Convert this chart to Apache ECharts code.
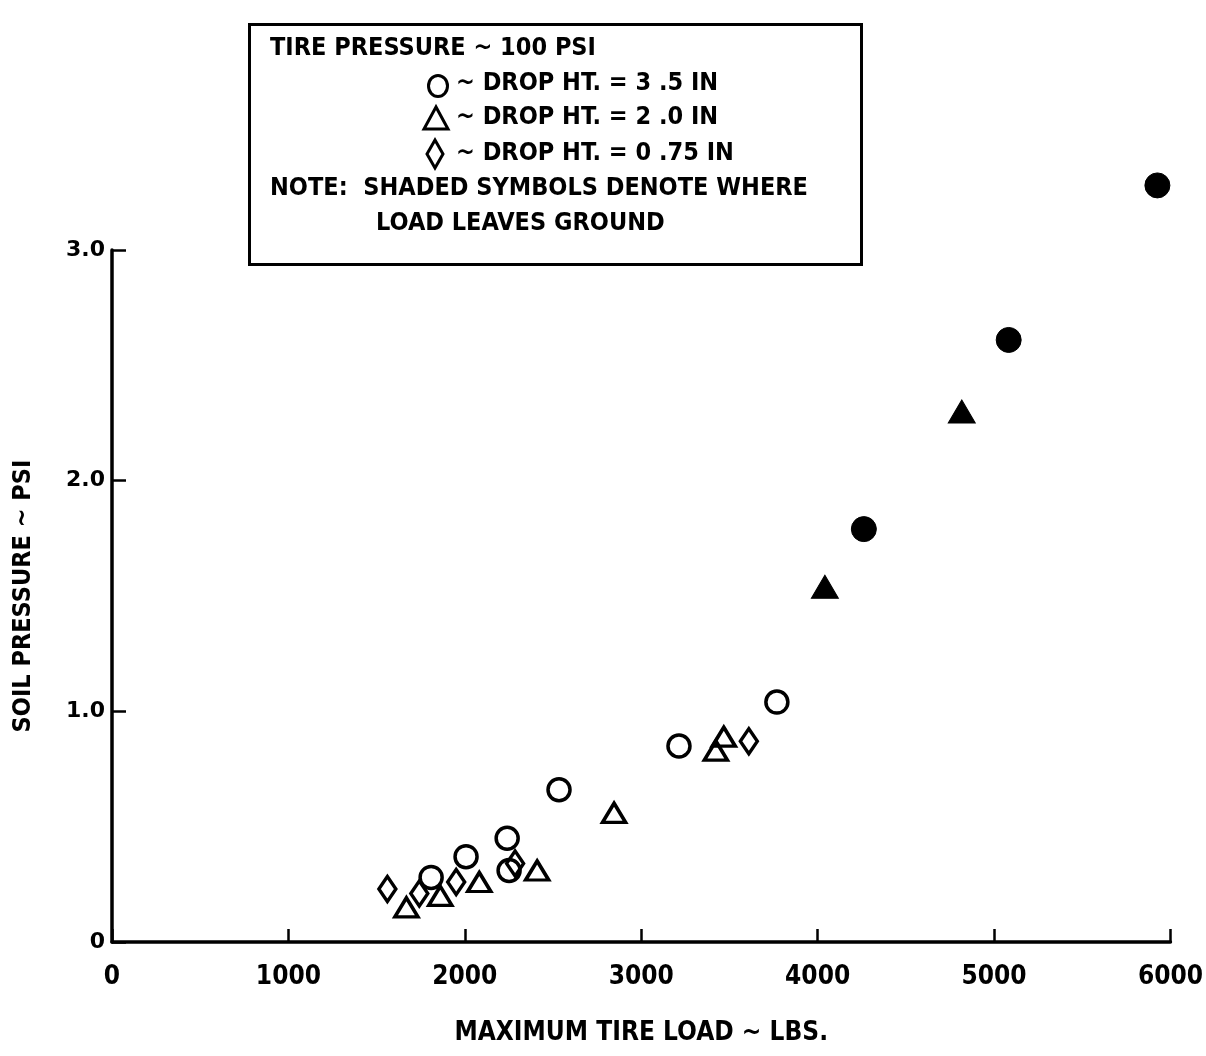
<!DOCTYPE html>
<html>
<head>
<meta charset="utf-8">
<script src="https://cdn.jsdelivr.net/npm/echarts@6/dist/echarts.min.js"></script>
<style>
html,body{margin:0;padding:0;background:#fff;}
#c{width:1206px;height:1056px;}
</style>
</head>
<body>
<div id="c"></div>
<script>
// Data (x: max tire load, lbs; y: soil pressure, psi)
const openCircleX = [3769, 3214, 2534, 2240, 2251, 2007, 1809];
const openCircleY = [1.04, 0.85, 0.66, 0.45, 0.31, 0.37, 0.28];
const openTriangleX = [3468, 3423, 2846, 2410, 2082, 1861, 1669];
const openTriangleY = [0.89, 0.83, 0.56, 0.31, 0.26, 0.20, 0.15];
const openDiamondX = [3610, 2285, 1951, 1742, 1561];
const openDiamondY = [0.87, 0.34, 0.26, 0.21, 0.23];
const filledCircleX = [5926, 5083, 4262];
const filledCircleY = [3.28, 2.61, 1.79];
const filledTriangleX = [4817, 4041];
const filledTriangleY = [2.30, 1.54];

const xTicks = [0, 1000, 2000, 3000, 4000, 5000, 6000];
const yTicks = [0, 1.0, 2.0, 3.0];

const legendLines = [
  'TIRE PRESSURE ~ 100 PSI',
  '~ DROP HT. = 3 .5 IN',
  '~ DROP HT. = 2 .0 IN',
  '~ DROP HT. = 0 .75 IN',
  'NOTE:  SHADED SYMBOLS DENOTE WHERE',
  'LOAD LEAVES GROUND'
];

const FONT = '"Liberation Sans Narrow", "DejaVu Sans Condensed", "Liberation Sans", sans-serif';

function pairs(xs, ys) { return xs.map((x, i) => [x, ys[i]]); }

const chart = echarts.init(document.getElementById('c'), null, {renderer: 'canvas'});

const openStyle = {color: 'rgba(255,255,255,0)', borderColor: '#000', borderWidth: 3.5, opacity: 1};
const filledStyle = {color: '#000', borderColor: '#000', borderWidth: 1, opacity: 1};

const legendText = (txt, left, top) => ({
  type: 'text', left: left, top: top, z: 11,
  style: {text: txt, fontFamily: FONT, fontWeight: 'bold', fontSize: 25, fill: '#000'}
});

const option = {
  backgroundColor: '#fff',
  animation: false,
  grid: {left: 112, top: 250, width: 1060, height: 692, containLabel: false},
  xAxis: {
    type: 'value', min: 0, max: 6000, interval: 1000,
    name: 'MAXIMUM TIRE LOAD ~ LBS.', nameLocation: 'middle', nameGap: 78,
    nameTextStyle: {fontFamily: FONT, fontWeight: 'bold', fontSize: 26, color: '#000'},
    axisLine: {show: true, lineStyle: {color: '#000', width: 3.5}},
    axisTick: {show: true, inside: true, length: 13, lineStyle: {color: '#000', width: 2.5}},
    axisLabel: {color: '#000', fontFamily: FONT, fontWeight: 'bold', fontSize: 26, margin: 22,
      formatter: v => xTicks.indexOf(v) >= 0 ? String(v) : ''},
    splitLine: {show: false}
  },
  yAxis: {
    type: 'value', min: 0, max: 3, interval: 1,
    name: 'SOIL PRESSURE ~ PSI', nameLocation: 'middle', nameGap: 76, nameRotate: 90,
    nameTextStyle: {fontFamily: FONT, fontWeight: 'bold', fontSize: 25, color: '#000'},
    axisLine: {show: true, lineStyle: {color: '#000', width: 3.5}},
    axisTick: {show: true, inside: true, length: 14, lineStyle: {color: '#000', width: 2.5}},
    axisLabel: {color: '#000', fontFamily: '"DejaVu Sans", sans-serif', fontWeight: 'bold', fontSize: 22, margin: 7,
      formatter: v => yTicks.indexOf(v) >= 0 ? (v === 0 ? '0' : v.toFixed(1)) : ''},
    splitLine: {show: false}
  },
  series: [
    {name: 'open circle', type: 'scatter', clip: false, symbol: 'circle', symbolSize: 22,
     itemStyle: openStyle, data: pairs(openCircleX, openCircleY)},
    {name: 'open triangle', type: 'scatter', clip: false, symbol: 'triangle', symbolSize: [23, 19],
     itemStyle: openStyle, data: pairs(openTriangleX, openTriangleY)},
    {name: 'open diamond', type: 'scatter', clip: false, symbol: 'diamond', symbolSize: [17, 25],
     itemStyle: openStyle, data: pairs(openDiamondX, openDiamondY)},
    {name: 'filled circle', type: 'scatter', clip: false, symbol: 'circle', symbolSize: 25,
     itemStyle: filledStyle, data: pairs(filledCircleX, filledCircleY)},
    {name: 'filled triangle', type: 'scatter', clip: false, symbol: 'triangle', symbolSize: [27, 23],
     itemStyle: filledStyle, data: pairs(filledTriangleX, filledTriangleY)}
  ],
  graphic: [
    {type: 'rect', left: 247, top: 22, shape: {width: 612, height: 240},
     style: {fill: 'none', stroke: '#000', lineWidth: 3}, z: 10},
    legendText(legendLines[0], 270, 36),
    {type: 'ellipse', shape: {cx: 438, cy: 86, rx: 9.5, ry: 10.5}, style: {fill: 'none', stroke: '#000', lineWidth: 3}, z: 11},
    legendText(legendLines[1], 456, 71),
    {type: 'polygon', shape: {points: [[436, 107], [424, 129], [448, 129]]}, style: {fill: 'none', stroke: '#000', lineWidth: 3}, z: 11},
    legendText(legendLines[2], 456, 105),
    {type: 'polygon', shape: {points: [[435, 140], [443, 154], [435, 168], [427, 154]]}, style: {fill: 'none', stroke: '#000', lineWidth: 3}, z: 11},
    legendText(legendLines[3], 456, 141),
    legendText(legendLines[4], 270, 176),
    legendText(legendLines[5], 376, 211)
  ]
};
chart.setOption(option);
</script>
</body>
</html>
